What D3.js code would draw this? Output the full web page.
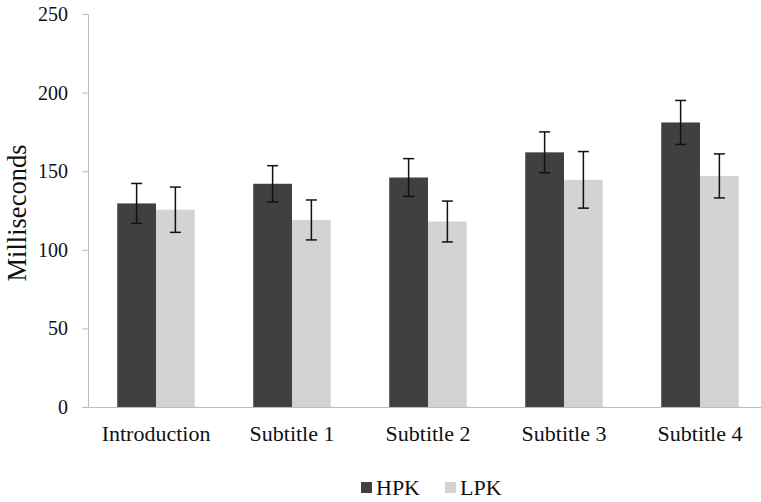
<!DOCTYPE html>
<html>
<head>
<meta charset="utf-8">
<script src="https://d3js.org/d3.v7.min.js"></script>
<style>
  body { margin: 0; background: #fff; }
</style>
</head>
<body>
<div id="my_dataviz"></div>
<script>
// data
var categories = ["Introduction", "Subtitle 1", "Subtitle 2", "Subtitle 3", "Subtitle 4"];
var series = ["HPK", "LPK"];
var hpkValues = [129.5, 142, 146, 162, 181];
var hpkErrors = [12.7, 11.5, 12, 13, 14];
var lpkValues = [125.5, 119, 118, 144.5, 147];
var lpkErrors = [14.4, 12.7, 13, 18, 14];
var yTicks = [0, 50, 100, 150, 200, 250];

var colors = { HPK: "#404040", LPK: "#d3d3d3" };
var serif = "Liberation Serif, Tinos, Times New Roman, Times, DejaVu Serif, serif";

var rows = [];
categories.forEach(function(c, i) {
  rows.push({ cat: c, key: "HPK", value: hpkValues[i], err: hpkErrors[i] });
  rows.push({ cat: c, key: "LPK", value: lpkValues[i], err: lpkErrors[i] });
});

var width = 761, height = 502;

var svg = d3.select("#my_dataviz")
  .append("svg")
    .attr("width", width)
    .attr("height", height)
    .style("font-family", serif);

// scales
var y = d3.scaleLinear()
  .domain([0, 250])
  .range([407, 14]);

var x0 = d3.scaleBand()
  .domain(categories)
  .range([88, 768])
  .paddingInner(0.43)
  .paddingOuter(0.215);

var x1 = d3.scaleBand()
  .domain(series)
  .range([0, x0.bandwidth()]);

// Y axis
var yAxis = svg.append("g")
  .attr("transform", "translate(88,0)")
  .call(d3.axisLeft(y).tickValues(yTicks).tickSize(6).tickPadding(14))
  .attr("font-family", null)
  .attr("font-size", 20);
yAxis.select(".domain").attr("stroke", "#bdbdbd");
yAxis.selectAll(".tick line").attr("stroke", "#bdbdbd");
yAxis.selectAll("text").attr("fill", "#111");

// Bars
svg.selectAll("mybar")
  .data(rows)
  .enter()
  .append("rect")
    .attr("x", function(d) { return x0(d.cat) + x1(d.key); })
    .attr("y", function(d) { return y(d.value); })
    .attr("width", x1.bandwidth())
    .attr("height", function(d) { return y(0) - y(d.value); })
    .attr("fill", function(d) { return colors[d.key]; });

// X axis (drawn after bars so the base line stays on top)
var xAxis = svg.append("g")
  .attr("transform", "translate(0,407)")
  .call(d3.axisBottom(x0).tickSize(0).tickPadding(18))
  .attr("font-family", null)
  .attr("font-size", 22);
xAxis.select(".domain").attr("stroke", "#bdbdbd");
xAxis.selectAll("text").attr("fill", "#111");

// Error bars
var cap = 5.5;
var err = svg.selectAll("myerr")
  .data(rows)
  .enter()
  .append("g")
    .attr("stroke", "#111")
    .attr("stroke-width", 1.5);
err.append("line")
  .attr("x1", function(d) { return x0(d.cat) + x1(d.key) + x1.bandwidth() / 2; })
  .attr("x2", function(d) { return x0(d.cat) + x1(d.key) + x1.bandwidth() / 2; })
  .attr("y1", function(d) { return y(d.value + d.err); })
  .attr("y2", function(d) { return y(d.value - d.err); });
err.append("line")
  .attr("x1", function(d) { return x0(d.cat) + x1(d.key) + x1.bandwidth() / 2 - cap; })
  .attr("x2", function(d) { return x0(d.cat) + x1(d.key) + x1.bandwidth() / 2 + cap; })
  .attr("y1", function(d) { return y(d.value + d.err); })
  .attr("y2", function(d) { return y(d.value + d.err); });
err.append("line")
  .attr("x1", function(d) { return x0(d.cat) + x1(d.key) + x1.bandwidth() / 2 - cap; })
  .attr("x2", function(d) { return x0(d.cat) + x1(d.key) + x1.bandwidth() / 2 + cap; })
  .attr("y1", function(d) { return y(d.value - d.err); })
  .attr("y2", function(d) { return y(d.value - d.err); });

// Y axis title
svg.append("text")
  .attr("transform", "rotate(-90)")
  .attr("x", -213)
  .attr("y", 26)
  .attr("text-anchor", "middle")
  .attr("font-size", 26.5)
  .attr("fill", "#111")
  .text("Milliseconds");

// Legend
var legendX = [361, 445];
var legend = svg.selectAll("mylegend")
  .data(series)
  .enter()
  .append("g")
    .attr("transform", function(d, i) { return "translate(" + legendX[i] + ",482)"; });
legend.append("rect")
  .attr("width", 11)
  .attr("height", 11)
  .attr("fill", function(d) { return colors[d]; });
legend.append("text")
  .attr("x", 15)
  .attr("y", 13)
  .attr("font-size", 22)
  .attr("fill", "#111")
  .text(function(d) { return d; });
</script>
</body>
</html>
